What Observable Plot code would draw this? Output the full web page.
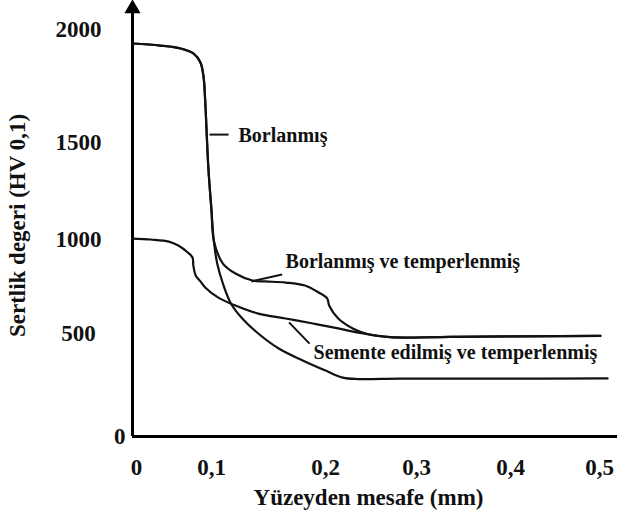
<!DOCTYPE html>
<html>
<head>
<meta charset="utf-8">
<script src="https://cdn.jsdelivr.net/npm/d3@7"></script>
<script src="https://cdn.jsdelivr.net/npm/@observablehq/plot@0.6"></script>
<style>
  html, body { margin: 0; padding: 0; background: #fff; }
  #chart { width: 617px; height: 523px; overflow: hidden; }
  #chart svg text { font-family: "Liberation Serif", "Times New Roman", serif; font-weight: bold; }
</style>
</head>
<body>
<div id="chart"></div>
<script>
// ---- data ----
const xTicks = [0, 0.1, 0.2, 0.3, 0.4, 0.5];
const yTicks = [0, 500, 1000, 1500, 2000];
const xAxisEnd = 0.52;
const yAxisEnd = 2106;

const xTitle = "Yüzeyden mesafe (mm)";
const yTitle = "Sertlik degeri (HV 0,1)";

const borX = [0, 0.035, 0.061, 0.077, 0.086, 0.090, 0.092, 0.096, 0.100, 0.102, 0.105, 0.110, 0.117, 0.127, 0.141, 0.159, 0.180, 0.200, 0.219, 0.236, 0.282, 0.389, 0.509];
const borY = [1938, 1929, 1916, 1894, 1854, 1788, 1686, 1371, 1149, 995, 872, 766, 660, 580, 500, 427, 369, 320, 286, 279, 281, 281, 282];

const btX = [0, 0.035, 0.061, 0.077, 0.086, 0.090, 0.092, 0.096, 0.100, 0.102, 0.110, 0.121, 0.136, 0.147, 0.165, 0.182, 0.194, 0.202, 0.204, 0.214, 0.230, 0.244, 0.271, 0.336, 0.501];
const btY = [1938, 1929, 1916, 1894, 1854, 1788, 1686, 1371, 1149, 995, 872, 819, 782, 777, 771, 755, 718, 686, 649, 580, 527, 500, 482, 484, 488];

const semX = [0, 0.023, 0.046, 0.058, 0.070, 0.076, 0.077, 0.080, 0.086, 0.092, 0.106, 0.121, 0.141, 0.165, 0.189, 0.214, 0.236, 0.271, 0.336, 0.501];
const semY = [1005, 1000, 989, 968, 931, 904, 862, 809, 777, 745, 691, 649, 606, 580, 553, 527, 505, 482, 484, 488];

const labelTexts = ["Borlanmış", "Borlanmış ve temperlenmiş", "Semente edilmiş ve temperlenmiş"];
const labelX = [0.1237, 0.165, 0.1895];
const labelY = [1531, 883, 408];
const leaderX1 = [0.0975, 0.135, 0.168];
const leaderY1 = [1535, 777, 559];
const leaderX2 = [0.115, 0.162, 0.186];
const leaderY2 = [1535, 814, 451];

// ---- tables built from the arrays ----
const series = [
  ...borX.map((x, i) => ({s: labelTexts[0], x, y: borY[i]})),
  ...btX.map((x, i) => ({s: labelTexts[1], x, y: btY[i]})),
  ...semX.map((x, i) => ({s: labelTexts[2], x, y: semY[i]}))
];
const labels = labelTexts.map((t, i) => ({t, x: labelX[i], y: labelY[i]}));
const leaders = labelTexts.map((t, i) => ({x1: leaderX1[i], y1: leaderY1[i], x2: leaderX2[i], y2: leaderY2[i]}));
const fmtX = d => String(d).replace(".", ",");
const fmtY = d => String(d);
const FONT = "Liberation Serif";

const chart = Plot.plot({
  width: 617,
  height: 523,
  marginLeft: 131,
  marginRight: 0,
  marginTop: 0,
  marginBottom: 87,
  style: {fontFamily: FONT, fontWeight: "bold", color: "#111", background: "#fff"},
  x: {type: "linear", domain: [...xTicks, xAxisEnd], range: [132, 211, 325, 416, 510, 599, 617]},
  y: {type: "linear", domain: [...yTicks, yAxisEnd], range: [436, 333, 239, 142, 29, 5]},
  marks: [
    // axis lines
    Plot.ruleY([0], {x1: 0, x2: xAxisEnd, stroke: "#000", strokeWidth: 3}),
    Plot.ruleX([0], {y1: 0, y2: yAxisEnd - 20, stroke: "#000", strokeWidth: 3}),
    Plot.dot([0], {x: 0, y: () => yAxisEnd - 14, symbol: "triangle", r: 6, fill: "#000", stroke: null}),
    // tick labels
    Plot.axisX(xTicks.slice(1), {tickSize: 0, tickPadding: 22, tickFormat: fmtX, fontSize: 23, fontFamily: FONT, fontWeight: "bold"}),
    Plot.axisX([0], {tickSize: 0, tickPadding: 22, dx: 4, tickFormat: fmtX, fontSize: 23, fontFamily: FONT, fontWeight: "bold"}),
    Plot.axisY(yTicks.slice(1), {tickSize: 0, tickPadding: 53, textAnchor: "middle", tickFormat: fmtY, fontSize: 23, fontFamily: FONT, fontWeight: "bold"}),
    Plot.axisY([0], {tickSize: 0, tickPadding: 6, tickFormat: fmtY, fontSize: 23, fontFamily: FONT, fontWeight: "bold"}),
    // axis titles
    Plot.text([xTitle], {frameAnchor: "bottom", text: d => d, dx: -6, dy: 61, textAnchor: "middle", lineAnchor: "middle", fontSize: 23, fontFamily: FONT, fontWeight: "bold"}),
    Plot.text([yTitle], {frameAnchor: "left", text: d => d, rotate: -90, dx: -114, dy: 7, textAnchor: "middle", lineAnchor: "middle", fontSize: 23, fontFamily: FONT, fontWeight: "bold"}),
    // curves
    Plot.line(series, {x: "x", y: "y", z: "s", stroke: "#111", strokeWidth: 2.2, curve: "catmull-rom"}),
    // leaders and labels
    Plot.link(leaders, {x1: "x1", y1: "y1", x2: "x2", y2: "y2", stroke: "#111", strokeWidth: 2}),
    Plot.text(labels, {x: "x", y: "y", text: "t", textAnchor: "start", lineAnchor: "middle", fontSize: 20, fontFamily: FONT, fontWeight: "bold", fill: "#111"})
  ]
});
document.getElementById("chart").appendChild(chart);
</script>
</body>
</html>
